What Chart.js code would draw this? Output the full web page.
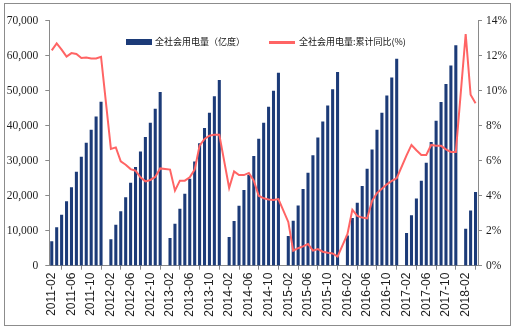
<!DOCTYPE html>
<html>
<head>
<meta charset="utf-8">
<script src="https://cdn.jsdelivr.net/npm/chart.js@4.4.1/dist/chart.umd.min.js"></script>
<style>
html,body{margin:0;padding:0;background:#fff;}
#wrap{position:relative;width:513px;height:331px;overflow:hidden;}
#frame{position:absolute;left:4px;top:3px;width:507px;height:323px;border:1px solid #8c8c8c;box-sizing:border-box;}
#chart{position:absolute;left:0;top:0;}
.lg{position:absolute;font-family:"Noto Sans CJK SC",sans-serif;font-size:9px;color:#111;line-height:12px;white-space:nowrap;}
.sw{position:absolute;}
</style>
</head>
<body>
<div id="wrap">
  <div id="frame"></div>
  <canvas id="chart" width="513" height="331"></canvas>
  <div class="sw" style="left:126px;top:39px;width:26px;height:6px;background:#1c3b78;"></div>
  <div class="lg" style="left:155px;top:36px;">全社会用电量（亿度）</div>
  <div class="sw" style="left:269px;top:41px;width:26px;height:3px;background:#ff6464;"></div>
  <div class="lg" style="left:299px;top:36px;">全社会用电量:累计同比(%)</div>
</div>
<script>
// years shown, months Feb..Dec (Jan not published separately -> gap)
const years=[2011,2012,2013,2014,2015,2016,2017,2018];
const months=['01','02','03','04','05','06','07','08','09','10','11','12'];

// cumulative consumption, 亿度, Feb..Dec
const use2011=[6860,10860,14480,18290,22290,26760,31050,35050,38760,42570,46760];
const use2012=[7430,11620,15430,19430,23620,28100,32570,36670,40760,44760,49520];
const use2013=[7810,11900,16190,20480,24760,29710,34860,39240,43620,48290,52950];
const use2014=[8100,12670,17050,21520,25900,31240,36190,40760,45330,49900,55050];
const use2015=[8380,12760,17140,21810,26480,31430,36570,41140,45710,50290,55240];
const use2016=[8570,13520,17900,22670,27620,33140,38760,43620,48570,53710,59050];
const use2017=[9240,14290,19140,24190,29330,35240,41330,46670,51810,57140,62860];
const use2018=[10480,15710,20950];

// cumulative yoy growth, %, Feb..Dec
const yoy2011=[12.3,12.7,12.35,11.95,12.15,12.1,11.87,11.9,11.84,11.84,11.94];
const yoy2012=[6.67,6.76,5.96,5.77,5.52,5.43,5.05,4.82,4.9,5.07,5.56];
const yoy2013=[5.49,4.29,4.86,4.86,5.05,5.49,6.86,7.24,7.43,7.49,7.49];
const yoy2014=[4.44,5.39,5.18,5.18,5.3,4.86,4.0,3.85,3.78,3.75,3.81];
const yoy2015=[2.5,0.86,1.0,1.1,1.24,0.86,0.95,0.8,0.74,0.7,0.52];
const yoy2016=[1.8,3.2,2.85,2.75,2.7,3.7,4.15,4.4,4.65,4.85,5.0];
const yoy2017=[6.3,6.9,6.6,6.33,6.33,6.9,6.86,6.85,6.65,6.5,6.5];
const yoy2018=[13.24,9.77,9.28];

const useByYear=[use2011,use2012,use2013,use2014,use2015,use2016,use2017,use2018];
const yoyByYear=[yoy2011,yoy2012,yoy2013,yoy2014,yoy2015,yoy2016,yoy2017,yoy2018];

const labels=[],useData=[],yoyData=[];
years.forEach((y,k)=>{
  const u=useByYear[k],g=yoyByYear[k];
  if(k>0){labels.push(y+'-01');useData.push(null);yoyData.push(null);}
  for(let j=0;j<u.length;j++){
    labels.push(y+'-'+months[j+1]);useData.push(u[j]);yoyData.push(g[j]);
  }
});

const leftTicks=[0,10000,20000,30000,40000,50000,60000,70000];
const rightTicks=[0,2,4,6,8,10,12,14];

const axisCol='#8a8a8a', txt='#1e1e1e';
const tickFont={family:'Liberation Sans Narrow',size:11.5};

new Chart(document.getElementById('chart').getContext('2d'),{
  data:{labels,
    datasets:[
      {type:'line',label:'全社会用电量:累计同比(%)',data:yoyData,yAxisID:'y1',
        borderColor:'#ff6464',borderWidth:2,pointRadius:0,tension:0,spanGaps:true,order:0},
      {type:'bar',label:'全社会用电量（亿度）',data:useData,yAxisID:'y',
        backgroundColor:'#1c3b78',barThickness:2.4,order:1}
    ]},
  options:{
    responsive:false,animation:false,devicePixelRatio:1,
    layout:{padding:{top:20.7,left:0,right:0,bottom:0}},
    plugins:{legend:{display:false},tooltip:{enabled:false}},
    scales:{
      x:{offset:true,
        grid:{display:true,drawOnChartArea:false,drawTicks:true,tickLength:4,color:axisCol,offset:true},
        border:{display:true,color:axisCol},
        ticks:{autoSkip:false,maxRotation:90,minRotation:90,padding:3,color:txt,
          font:{family:'Liberation Sans',size:12},
          callback:(v,i)=>i%4===0?labels[i]:null},
        afterFit:s=>{s.height=65.3;}},
      y:{position:'left',min:0,max:70000,
        afterBuildTicks:s=>{s.ticks=leftTicks.map(v=>({value:v}));},
        grid:{drawOnChartArea:false,tickLength:4,color:axisCol},
        border:{display:true,color:axisCol},
        ticks:{padding:7,color:txt,font:tickFont,callback:v=>v.toLocaleString('en-US')},
        afterFit:s=>{s.width=49.3;}},
      y1:{position:'right',min:0,max:14,
        afterBuildTicks:s=>{s.ticks=rightTicks.map(v=>({value:v}));},
        grid:{drawOnChartArea:false,tickLength:4,color:axisCol},
        border:{display:true,color:axisCol},
        ticks:{padding:4,color:txt,font:tickFont,callback:v=>v+'%'},
        afterFit:s=>{s.width=35;}}
    }
  }
});
</script>
</body>
</html>
